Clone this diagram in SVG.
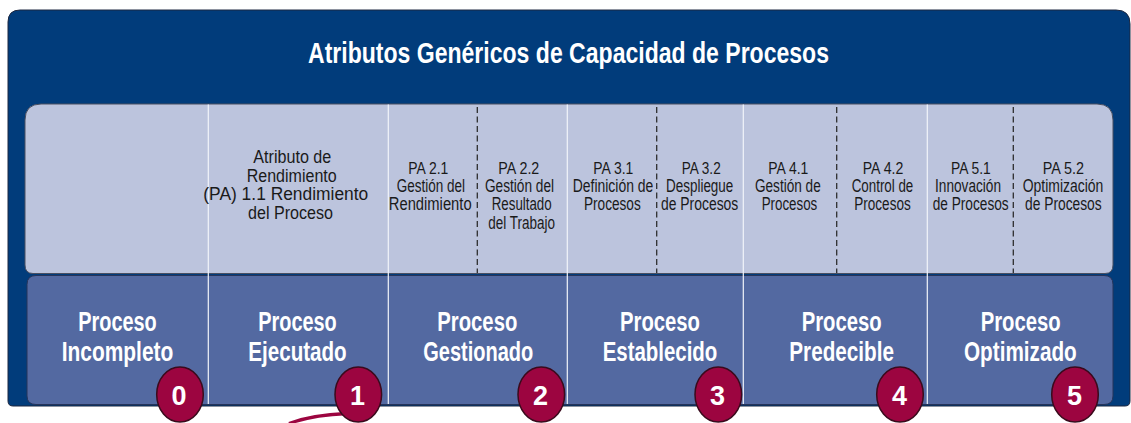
<svg xmlns="http://www.w3.org/2000/svg" width="1131" height="423" viewBox="0 0 1131 423">
  <style>
    .title { font-family: "Liberation Sans Narrow", "Liberation Sans", Arial, sans-serif; font-weight: bold; font-size: 29px; fill: #ffffff; }
    .pa { font-family: "Liberation Sans Narrow", "Liberation Sans", Arial, sans-serif; font-size: 16px; fill: #1a1a1a; }
    .desc { font-family: "Liberation Sans Narrow", "Liberation Sans", Arial, sans-serif; font-size: 17.5px; fill: #1a1a1a; }
    .big { font-family: "Liberation Sans Narrow", "Liberation Sans", Arial, sans-serif; font-size: 17.5px; fill: #1a1a1a; }
    .lvl { font-family: "Liberation Sans Narrow", "Liberation Sans", Arial, sans-serif; font-weight: bold; font-size: 28px; fill: #ffffff; }
    .num { font-family: "Liberation Sans Narrow", "Liberation Sans", Arial, sans-serif; font-weight: bold; font-size: 27px; fill: #ffffff; text-anchor: middle; }
    .badge { fill: #9C0540; stroke: #3a0a1c; stroke-width: 1.5; }
    .solid { stroke: #f2f4fa; stroke-width: 1.2; }
    .dash { stroke: #2e2e2e; stroke-width: 1.3; stroke-dasharray: 6 3.5; }
  </style>

  <!-- outer frame -->
  <g id="frame">
    <path d="M20,10 H1116 Q1130,10 1130,24 V401 Q1130,406 1125,406 H13 Q8,406 8,401 V22 Q8,10 20,10 Z" fill="#013C7B" stroke="#1d2740" stroke-width="1"/>
    <text class="title" x="308" y="63" textLength="521" lengthAdjust="spacingAndGlyphs">Atributos Genéricos de Capacidad de Procesos</text>
  </g>

  <!-- light attribute panel -->
  <g id="attribute-panel">
    <path d="M41,104 H1097 Q1113,104 1113,120 V265 Q1113,273.5 1105,273.5 H33 Q25,273.5 25,265 V120 Q25,104 41,104 Z" fill="#BCC4DD" stroke="#4a4f60" stroke-width="1"/>
  </g>

  <!-- level panel -->
  <g id="level-panel">
    <path d="M36,275.5 H1104 Q1113,275.5 1113,284.5 V396 Q1113,404.5 1104,404.5 H36 Q27,404.5 27,396 V284.5 Q27,275.5 36,275.5 Z" fill="#5369A1" stroke="#26345a" stroke-width="1"/>
  </g>

  <!-- dividers -->
  <g id="connectors">
    <line class="solid" x1="208.3" y1="104.5" x2="208.3" y2="404"/>
    <line class="solid" x1="388.3" y1="104.5" x2="388.3" y2="404"/>
    <line class="solid" x1="567.3" y1="104.5" x2="567.3" y2="404"/>
    <line class="solid" x1="743.3" y1="104.5" x2="743.3" y2="404"/>
    <line class="solid" x1="927.3" y1="104.5" x2="927.3" y2="404"/>
    <line class="dash" x1="477.3" y1="107" x2="477.3" y2="273"/>
    <line class="dash" x1="656.7" y1="107" x2="656.7" y2="273"/>
    <line class="dash" x1="836.7" y1="107" x2="836.7" y2="273"/>
    <line class="dash" x1="1013.3" y1="107" x2="1013.3" y2="273"/>
    <path d="M289,423.5 Q312,415 347,413.5" fill="none" stroke="#9C0540" stroke-width="3.3"/>
  </g>

  <!-- attribute texts -->
  <g id="pa-1-1">
    <text class="big" x="253.3" y="163.3" textLength="78" lengthAdjust="spacingAndGlyphs">Atributo de</text>
    <text class="big" x="246.7" y="181.7" textLength="90" lengthAdjust="spacingAndGlyphs">Rendimiento</text>
    <text class="big" x="203.3" y="200.3" textLength="165" lengthAdjust="spacingAndGlyphs">(PA) 1.1 Rendimiento</text>
    <text class="big" x="248" y="218.7" textLength="85" lengthAdjust="spacingAndGlyphs">del Proceso</text>
  </g>
  <g id="pa-2-1">
    <text class="pa" x="408.3" y="173.8" textLength="40" lengthAdjust="spacingAndGlyphs">PA 2.1</text>
    <text class="desc" x="396.7" y="191.8" textLength="68.3" lengthAdjust="spacingAndGlyphs">Gestión del</text>
    <text class="desc" x="388.8" y="210.3" textLength="82.8" lengthAdjust="spacingAndGlyphs">Rendimiento</text>
  </g>
  <g id="pa-2-2">
    <text class="pa" x="498.3" y="173.8" textLength="41" lengthAdjust="spacingAndGlyphs">PA 2.2</text>
    <text class="desc" x="485" y="191.8" textLength="69" lengthAdjust="spacingAndGlyphs">Gestión del</text>
    <text class="desc" x="491.7" y="210.3" textLength="60" lengthAdjust="spacingAndGlyphs">Resultado</text>
    <text class="desc" x="488.3" y="229" textLength="66.7" lengthAdjust="spacingAndGlyphs">del Trabajo</text>
  </g>
  <g id="pa-3-1">
    <text class="pa" x="593.3" y="173.8" textLength="40" lengthAdjust="spacingAndGlyphs">PA 3.1</text>
    <text class="desc" x="572.7" y="191.8" textLength="80.6" lengthAdjust="spacingAndGlyphs">Definición de</text>
    <text class="desc" x="584" y="210.3" textLength="56.7" lengthAdjust="spacingAndGlyphs">Procesos</text>
  </g>
  <g id="pa-3-2">
    <text class="pa" x="681.7" y="173.8" textLength="39" lengthAdjust="spacingAndGlyphs">PA 3.2</text>
    <text class="desc" x="666" y="191.8" textLength="67.3" lengthAdjust="spacingAndGlyphs">Despliegue</text>
    <text class="desc" x="661" y="210.3" textLength="77.3" lengthAdjust="spacingAndGlyphs">de Procesos</text>
  </g>
  <g id="pa-4-1">
    <text class="pa" x="768.3" y="173.8" textLength="40" lengthAdjust="spacingAndGlyphs">PA 4.1</text>
    <text class="desc" x="755" y="191.8" textLength="65.7" lengthAdjust="spacingAndGlyphs">Gestión de</text>
    <text class="desc" x="761.7" y="210.3" textLength="55.6" lengthAdjust="spacingAndGlyphs">Procesos</text>
  </g>
  <g id="pa-4-2">
    <text class="pa" x="862.7" y="173.8" textLength="40.6" lengthAdjust="spacingAndGlyphs">PA 4.2</text>
    <text class="desc" x="851.7" y="191.8" textLength="61.6" lengthAdjust="spacingAndGlyphs">Control de</text>
    <text class="desc" x="854.3" y="210.3" textLength="56.4" lengthAdjust="spacingAndGlyphs">Procesos</text>
  </g>
  <g id="pa-5-1">
    <text class="pa" x="951" y="173.8" textLength="39.7" lengthAdjust="spacingAndGlyphs">PA 5.1</text>
    <text class="desc" x="935" y="191.8" textLength="66" lengthAdjust="spacingAndGlyphs">Innovación</text>
    <text class="desc" x="932.7" y="210.3" textLength="76" lengthAdjust="spacingAndGlyphs">de Procesos</text>
  </g>
  <g id="pa-5-2">
    <text class="pa" x="1042.7" y="173.8" textLength="41.3" lengthAdjust="spacingAndGlyphs">PA 5.2</text>
    <text class="desc" x="1022.7" y="191.8" textLength="80.6" lengthAdjust="spacingAndGlyphs">Optimización</text>
    <text class="desc" x="1025" y="210.3" textLength="76.7" lengthAdjust="spacingAndGlyphs">de Procesos</text>
  </g>

  <!-- levels -->
  <g id="level-0">
    <text class="lvl" x="78.3" y="330.7" textLength="78.4" lengthAdjust="spacingAndGlyphs">Proceso</text>
    <text class="lvl" x="61.7" y="360.5" textLength="111.6" lengthAdjust="spacingAndGlyphs">Incompleto</text>
    <ellipse class="badge" cx="180" cy="394.5" rx="23.3" ry="27.5"/>
    <text class="num" x="179" y="404.5">0</text>
  </g>
  <g id="level-1">
    <text class="lvl" x="258.3" y="330.7" textLength="78.4" lengthAdjust="spacingAndGlyphs">Proceso</text>
    <text class="lvl" x="248.3" y="360.5" textLength="98.4" lengthAdjust="spacingAndGlyphs">Ejecutado</text>
    <ellipse class="badge" cx="358.3" cy="394.5" rx="23.3" ry="27.5"/>
    <text class="num" x="357.5" y="404.5">1</text>
  </g>
  <g id="level-2">
    <text class="lvl" x="437.3" y="330.7" textLength="80" lengthAdjust="spacingAndGlyphs">Proceso</text>
    <text class="lvl" x="423.3" y="360.5" textLength="110" lengthAdjust="spacingAndGlyphs">Gestionado</text>
    <ellipse class="badge" cx="541.3" cy="394.5" rx="23.3" ry="27.5"/>
    <text class="num" x="540.5" y="404.5">2</text>
  </g>
  <g id="level-3">
    <text class="lvl" x="620" y="330.7" textLength="80" lengthAdjust="spacingAndGlyphs">Proceso</text>
    <text class="lvl" x="602.7" y="360.5" textLength="114.6" lengthAdjust="spacingAndGlyphs">Establecido</text>
    <ellipse class="badge" cx="718.3" cy="394.5" rx="23.3" ry="27.5"/>
    <text class="num" x="717.5" y="404.5">3</text>
  </g>
  <g id="level-4">
    <text class="lvl" x="801.7" y="330.7" textLength="80" lengthAdjust="spacingAndGlyphs">Proceso</text>
    <text class="lvl" x="789.3" y="360.5" textLength="104.7" lengthAdjust="spacingAndGlyphs">Predecible</text>
    <ellipse class="badge" cx="900" cy="394.5" rx="23.3" ry="27.5"/>
    <text class="num" x="899.5" y="404.5">4</text>
  </g>
  <g id="level-5">
    <text class="lvl" x="980.7" y="330.7" textLength="80" lengthAdjust="spacingAndGlyphs">Proceso</text>
    <text class="lvl" x="964" y="360.5" textLength="112.7" lengthAdjust="spacingAndGlyphs">Optimizado</text>
    <ellipse class="badge" cx="1075" cy="394.5" rx="23.3" ry="27.5"/>
    <text class="num" x="1074.5" y="404.5">5</text>
  </g>
</svg>
